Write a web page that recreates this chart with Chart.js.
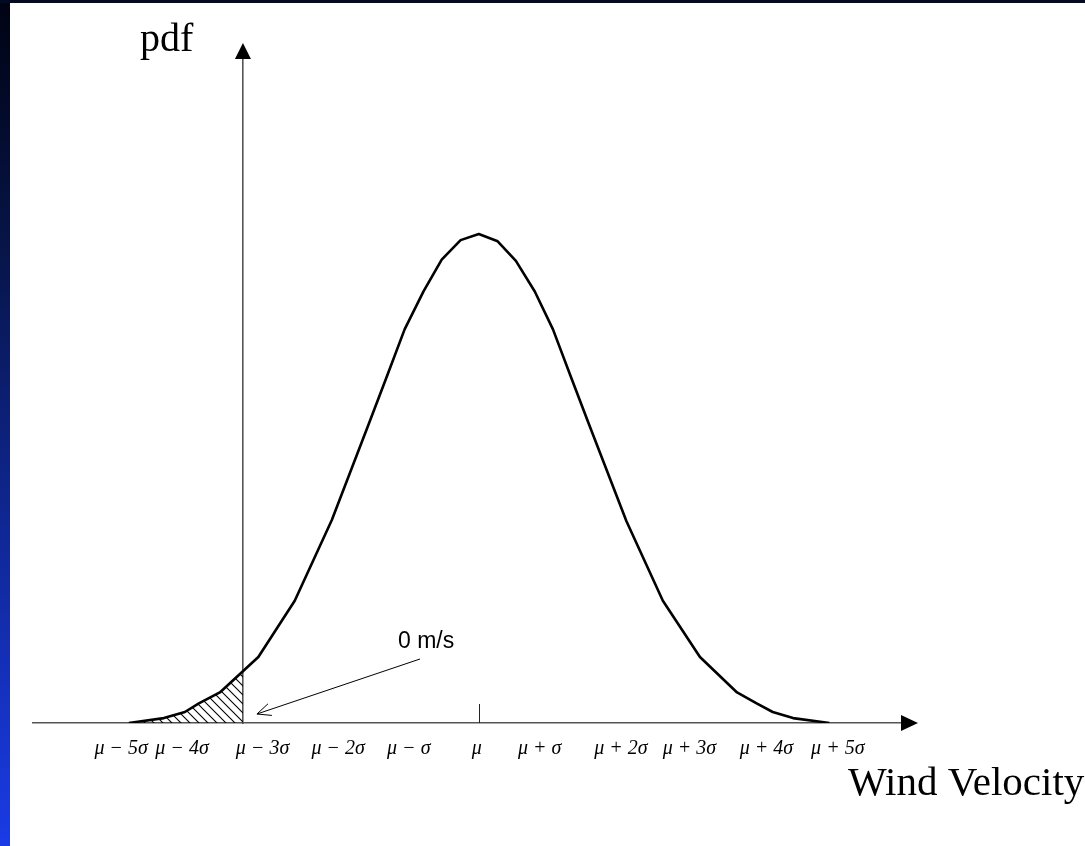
<!DOCTYPE html>
<html>
<head>
<meta charset="utf-8">
<script src="https://cdn.jsdelivr.net/npm/chart.js@4/dist/chart.umd.min.js"></script>
<style>
  html, body { margin:0; padding:0; background:#ffffff; width:1085px; height:846px; overflow:hidden; }
  #leftStrip { position:absolute; left:0; top:0; width:10px; height:846px;
    background: linear-gradient(to bottom, #000312 0%, #07154a 30%, #0f268f 60%, #1a3be6 100%); }
  #topStrip { position:absolute; left:0; top:0; width:1085px; height:3px; background:#020a24; }
  #wrap { position:absolute; left:10px; top:3px; width:1075px; height:843px; }
</style>
</head>
<body>
<div id="leftStrip"></div>
<div id="topStrip"></div>
<div id="wrap"><canvas id="c" width="1075" height="843"></canvas></div>
<script>
// ---- data (x in units of sigma relative to mu, y = pdf) ----
const curveX = [-5.0, -4.5, -4.2, -4.0, -3.7, -3.15, -2.63, -2.1, -1.57, -1.31, -1.06, -0.79, -0.53, -0.26, 0,
                0.27, 0.53, 0.8, 1.06, 1.31, 1.57, 2.11, 2.63, 3.16, 3.69, 3.97, 4.2, 4.49, 5.01];
const curveY = [0, 0.004, 0.009, 0.016, 0.025, 0.054, 0.100, 0.166, 0.245, 0.284, 0.322, 0.353, 0.379, 0.395, 0.400,
                0.394, 0.378, 0.353, 0.322, 0.284, 0.245, 0.165, 0.100, 0.054, 0.025, 0.016, 0.009, 0.004, 0];
const tailX = [-5.0, -4.5, -4.2, -4.0, -3.7, -3.37];
const tailY = [0, 0.004, 0.009, 0.016, 0.025, 0.042];
const zeroMs = -3.37;          // position of 0 m/s (the pdf axis)
const tickPos = [-5.11, -4.24, -3.09, -2.01, -1.0, -0.03, 0.87, 2.03, 3.01, 4.11, 5.13];
const tickLabels = ['\u03bc \u2212 5\u03c3', '\u03bc \u2212 4\u03c3', '\u03bc \u2212 3\u03c3', '\u03bc \u2212 2\u03c3', '\u03bc \u2212 \u03c3',
                    '\u03bc', '\u03bc + \u03c3', '\u03bc + 2\u03c3', '\u03bc + 3\u03c3', '\u03bc + 4\u03c3', '\u03bc + 5\u03c3'];
const yTitle = 'pdf';
const xTitle = 'Wind Velocity';
const annotText = '0 m/s';

// hatch pattern
function makeHatch() {
  const s = 9, p = document.createElement('canvas');
  p.width = s; p.height = s;
  const g = p.getContext('2d');
  g.strokeStyle = '#000'; g.lineWidth = 1.1;
  g.beginPath();
  g.moveTo(-1, -1); g.lineTo(s + 1, s + 1);
  g.moveTo(-1, s - 1); g.lineTo(1, s + 1);
  g.moveTo(s - 1, -1); g.lineTo(s + 1, 1);
  g.stroke();
  return g.createPattern(p, 'repeat');
}
const ctx0 = document.getElementById('c').getContext('2d');

const decor = {
  id: 'decor',
  afterDraw(chart) {
    const {ctx, chartArea: a, scales: {x, y}} = chart;
    ctx.save();
    // x arrow head
    const yb = y.getPixelForValue(0);
    ctx.fillStyle = '#000';
    ctx.beginPath();
    ctx.moveTo(a.right - 4, yb - 8); ctx.lineTo(a.right + 13, yb); ctx.lineTo(a.right - 4, yb + 8); ctx.closePath();
    ctx.fill();
    // y arrow head
    const xa = x.getPixelForValue(zeroMs);
    ctx.beginPath();
    ctx.moveTo(xa - 8, a.top + 3); ctx.lineTo(xa, a.top - 13); ctx.lineTo(xa + 8, a.top + 3); ctx.closePath();
    ctx.fill();
    // tick at mu
    const xm = x.getPixelForValue(0);
    ctx.strokeStyle = '#222'; ctx.lineWidth = 1;
    ctx.beginPath(); ctx.moveTo(Math.round(xm) + 0.5, yb - 19); ctx.lineTo(Math.round(xm) + 0.5, yb); ctx.stroke();
    // titles
    ctx.fillStyle = '#000';
    ctx.font = '40px "Liberation Serif", serif';
    ctx.textBaseline = 'alphabetic';
    ctx.textAlign = 'left';
    ctx.fillText(yTitle, 130, 48);
    ctx.font = '41px "Liberation Serif", serif';
    ctx.fillText(xTitle, 838, 792);
    // annotation
    ctx.font = '23px "Liberation Sans", Arial, sans-serif';
    ctx.fillText(annotText, 388, 645);
    const x1 = 410, y1 = 656, x2 = xa + 14, y2 = yb - 9;
    ctx.strokeStyle = '#000'; ctx.lineWidth = 1;
    ctx.beginPath(); ctx.moveTo(x1, y1); ctx.lineTo(x2, y2); ctx.stroke();
    const ang = Math.atan2(y1 - y2, x1 - x2), L = 15, w = 0.42;
    ctx.beginPath();
    ctx.moveTo(x2 + L * Math.cos(ang - w), y2 + L * Math.sin(ang - w));
    ctx.lineTo(x2, y2);
    ctx.lineTo(x2 + L * Math.cos(ang + w), y2 + L * Math.sin(ang + w));
    ctx.stroke();
    ctx.restore();
  }
};

new Chart(ctx0, {
  type: 'line',
  data: {
    datasets: [
      {
        data: tailX.map((v, i) => ({x: v, y: tailY[i]})),
        borderWidth: 0, borderColor: 'rgba(0,0,0,0)',
        backgroundColor: makeHatch(), fill: 'origin', pointRadius: 0, tension: 0
      },
      {
        data: curveX.map((v, i) => ({x: v, y: curveY[i]})),
        borderColor: '#000', borderWidth: 2.6, fill: false, pointRadius: 0, tension: 0,
        borderJoinStyle: 'round'
      }
    ]
  },
  options: {
    responsive: false, animation: false, devicePixelRatio: 1,
    layout: { padding: { left: 23, right: 180, top: 53, bottom: 79 } },
    plugins: { legend: { display: false }, tooltip: { enabled: false } },
    scales: {
      x: {
        type: 'linear', min: -6.37, max: 6.09,
        grid: { display: false },
        border: { display: true, color: '#555555', width: 1.6 },
        afterBuildTicks: (s) => { s.ticks = tickPos.map(v => ({value: v})); },
        ticks: {
          autoSkip: false, maxRotation: 0, padding: 6, color: '#000',
          font: { family: '"Liberation Serif", serif', size: 20, style: 'italic' },
          callback: (v, i) => tickLabels[i]
        }
      },
      y: {
        type: 'linear', min: 0, max: 0.5456,
        position: { x: zeroMs },
        grid: { display: false },
        border: { display: true, color: '#555555', width: 1.6 },
        ticks: { display: false }
      }
    }
  },
  plugins: [decor]
});
</script>
</body>
</html>
